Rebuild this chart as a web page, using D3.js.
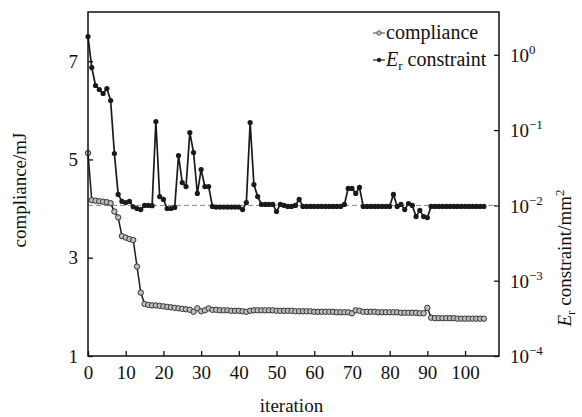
<!DOCTYPE html>
<html>
<head>
<meta charset="utf-8">
<script src="https://cdn.jsdelivr.net/npm/d3@7"></script>
</head>
<body style="margin:0; background:#fff">
<svg id="canvas" width="582" height="417"></svg>
<script>
// values, one per iteration (0..105)
let compliance = [
    5.13, 4.17, 4.16, 4.15, 4.14, 4.13, 4.11, 3.94, 3.82, 3.44,
    3.41, 3.38, 3.36, 2.82, 2.29, 2.06, 2.04, 2.03, 2.03, 2.02,
    2.01, 2.00, 1.99, 1.98, 1.97, 1.96, 1.95, 1.94, 1.90, 1.97,
    1.91, 1.93, 1.97, 1.94, 1.94, 1.93, 1.93, 1.93, 1.92, 1.92,
    1.92, 1.91, 1.90, 1.92, 1.93, 1.93, 1.93, 1.93, 1.93, 1.93,
    1.92, 1.92, 1.92, 1.92, 1.92, 1.91, 1.91, 1.91, 1.91, 1.91,
    1.90, 1.90, 1.90, 1.90, 1.90, 1.90, 1.89, 1.89, 1.89, 1.89,
    1.87, 1.93, 1.92, 1.90, 1.90, 1.90, 1.90, 1.89, 1.89, 1.89,
    1.89, 1.89, 1.89, 1.88, 1.88, 1.88, 1.88, 1.88, 1.87, 1.87,
    1.98, 1.78, 1.77, 1.77, 1.77, 1.77, 1.77, 1.77, 1.76, 1.76,
    1.76, 1.76, 1.76, 1.76, 1.76, 1.76
]

let erConstraint = [
    1.75, 0.678, 0.391, 0.346, 0.306, 0.356, 0.247, 0.0489, 0.0140, 0.0113,
    0.0109, 0.0113, 0.0096, 0.0091, 0.0088, 0.0100, 0.0100, 0.0099, 0.130, 0.0131,
    0.0120, 0.0091, 0.0091, 0.0094, 0.0460, 0.0201, 0.0178, 0.0929, 0.0504, 0.0144,
    0.0299, 0.0178, 0.0178, 0.0097, 0.0095, 0.0095, 0.0095, 0.0095, 0.0095, 0.0095,
    0.0095, 0.0088, 0.0109, 0.126, 0.0189, 0.0131, 0.0103, 0.0103, 0.0103, 0.0103,
    0.0083, 0.0103, 0.0100, 0.0097, 0.0097, 0.0100, 0.0120, 0.0097, 0.0097, 0.0097,
    0.0097, 0.0097, 0.0097, 0.0097, 0.0097, 0.0097, 0.0097, 0.0097, 0.0103, 0.0168,
    0.0168, 0.0144, 0.0173, 0.0097, 0.0097, 0.0097, 0.0097, 0.0097, 0.0097, 0.0097,
    0.0097, 0.0140, 0.0097, 0.0103, 0.0088, 0.0106, 0.0100, 0.0071, 0.0086, 0.0071,
    0.0069, 0.0097, 0.0097, 0.0097, 0.0097, 0.0097, 0.0097, 0.0097, 0.0097, 0.0097,
    0.0097, 0.0097, 0.0097, 0.0097, 0.0097, 0.0097
]

let xTicks = [0, 10, 20, 30, 40, 50, 60, 70, 80, 90, 100]
let leftTicks = [1, 3, 5, 7]
let rightTicks = [1, 0.1, 0.01, 0.001, 0.0001]
let rightTickExp = ['0', '\u22121', '\u22122', '\u22123', '\u22124']
let referenceLevel = 0.01

let fontName = '"Liberation Serif", serif'

let margin = { top: 12, right: 83, bottom: 61, left: 88 }
let width = 582 - margin.left - margin.right
let height = 417 - margin.top - margin.bottom

let canvas = d3.select('#canvas')
let plot = canvas.append('g')
                 .attr('transform', 'translate(' + margin.left + ',' + margin.top + ')')

let xScale = d3.scaleLinear().domain([0, 109]).range([0, width])
let yLeft = d3.scaleLinear().domain([1, 8]).range([height, 0])
let yRight = d3.scaleLog().domain([0.0001, 3.7]).range([height, 0])

// axes, ticks pointing inward
let xAxis = d3.axisBottom(xScale).tickValues(xTicks).tickFormat(d3.format('d'))
              .tickSizeInner(-5).tickSizeOuter(0).tickPadding(10)
let leftAxis = d3.axisLeft(yLeft).tickValues(leftTicks).tickFormat(d3.format('d'))
                 .tickSizeInner(-5).tickSizeOuter(0).tickPadding(10)
let rightAxis = d3.axisRight(yRight).tickValues(rightTicks).tickSizeInner(-5).tickSizeOuter(0).tickFormat('')

let styleAxis = (g) => {
    g.select('.domain').remove()
    g.selectAll('line').attr('stroke', '#111').attr('stroke-width', 1.3)
    g.selectAll('text')
     .attr('fill', '#111')
     .attr('font-family', fontName)
     .attr('font-size', 19)
}

plot.append('g').attr('transform', 'translate(0,' + height + ')').call(xAxis).call(styleAxis)
plot.append('g').call(leftAxis).call(styleAxis)
let rAxis = plot.append('g').attr('transform', 'translate(' + width + ',0)').call(rightAxis).call(styleAxis)

// log labels as 10 with superscript
rAxis.selectAll('.tick').each(function (d, i) {
    let t = d3.select(this).append('text')
                .attr('x', 11)
                .attr('dy', '0.35em')
                .attr('text-anchor', 'start')
                .attr('fill', '#111')
                .attr('font-family', fontName)
                .attr('font-size', 19)
    t.append('tspan').text('10')
    t.append('tspan').text(rightTickExp[i]).attr('dy', -8).attr('font-size', 13)
})

// dashed reference line
plot.append('line')
    .attr('x1', 0).attr('x2', width)
    .attr('y1', yRight(referenceLevel)).attr('y2', yRight(referenceLevel))
    .attr('stroke', '#888').attr('stroke-width', 1).attr('stroke-dasharray', '5,3')

// compliance series
let compLine = d3.line().x((d, i) => xScale(i)).y((d) => yLeft(d))
plot.append('path')
    .datum(compliance)
    .attr('d', compLine)
    .attr('fill', 'none').attr('stroke', '#1a1a1a').attr('stroke-width', 1.5)
plot.selectAll('.comp')
    .data(compliance)
    .enter()
    .append('circle')
    .attr('class', 'comp')
    .attr('cx', (d, i) => xScale(i))
    .attr('cy', (d) => yLeft(d))
    .attr('r', 2.7)
    .attr('fill', '#bdbdbd').attr('stroke', '#333').attr('stroke-width', 1)

// Er constraint series
let erLine = d3.line().x((d, i) => xScale(i)).y((d) => yRight(d))
plot.append('path')
    .datum(erConstraint)
    .attr('d', erLine)
    .attr('fill', 'none').attr('stroke', '#1a1a1a').attr('stroke-width', 1.7)
plot.selectAll('.er')
    .data(erConstraint)
    .enter()
    .append('circle')
    .attr('class', 'er')
    .attr('cx', (d, i) => xScale(i))
    .attr('cy', (d) => yRight(d))
    .attr('r', 2.6)
    .attr('fill', '#1a1a1a')

// frame
plot.append('rect')
    .attr('width', width).attr('height', height)
    .attr('fill', 'none').attr('stroke', '#111').attr('stroke-width', 1.5)

// legend
let legend = plot.append('g')
                 .attr('transform', 'translate(' + (width - 126) + ',20)')
legend.append('line').attr('x1', 0).attr('x2', 12).attr('y1', 1).attr('y2', 1).attr('stroke', '#444').attr('stroke-width', 1)
legend.append('circle').attr('cx', 6).attr('cy', 1).attr('r', 2.2).attr('fill', '#bdbdbd').attr('stroke', '#444').attr('stroke-width', 0.8)
legend.append('text').attr('x', 13).attr('y', 0).attr('dy', '0.35em')
      .attr('font-family', fontName).attr('font-size', 20).attr('fill', '#111')
      .text('compliance')

legend.append('line').attr('x1', 0).attr('x2', 12).attr('y1', 28).attr('y2', 28).attr('stroke', '#222').attr('stroke-width', 1.2)
legend.append('circle').attr('cx', 6).attr('cy', 28).attr('r', 2.2).attr('fill', '#222')
let lt = legend.append('text').attr('x', 13).attr('y', 27).attr('dy', '0.35em')
               .attr('font-family', fontName).attr('font-size', 20).attr('fill', '#111')
lt.append('tspan').text('E').attr('font-style', 'italic')
lt.append('tspan').text('r').attr('dy', 4).attr('font-size', 13)
lt.append('tspan').text(' constraint').attr('dy', -4)

// axis titles
canvas.append('text')
    .attr('font-family', fontName)
    .attr('fill', '#111')
    .attr('transform', 'translate(26,190) rotate(-90)')
    .attr('text-anchor', 'middle')
    .attr('font-size', 19)
    .text('compliance/mJ')

canvas.append('text')
    .attr('font-family', fontName)
    .attr('fill', '#111')
    .attr('x', margin.left + width / 2 - 2)
    .attr('y', 412)
    .attr('text-anchor', 'middle')
    .attr('font-size', 19)
    .text('iteration')

let rt = canvas.append('text')
    .attr('font-family', fontName)
    .attr('fill', '#111')
    .attr('transform', 'translate(571,258) rotate(-90)')
    .attr('text-anchor', 'middle')
    .attr('font-size', 19)
rt.append('tspan').text('E').attr('font-style', 'italic')
rt.append('tspan').text('r').attr('dy', 4).attr('font-size', 13)
rt.append('tspan').text(' constraint/mm').attr('dy', -4)
rt.append('tspan').text('2').attr('dy', -7).attr('font-size', 13)
</script>
</body>
</html>
